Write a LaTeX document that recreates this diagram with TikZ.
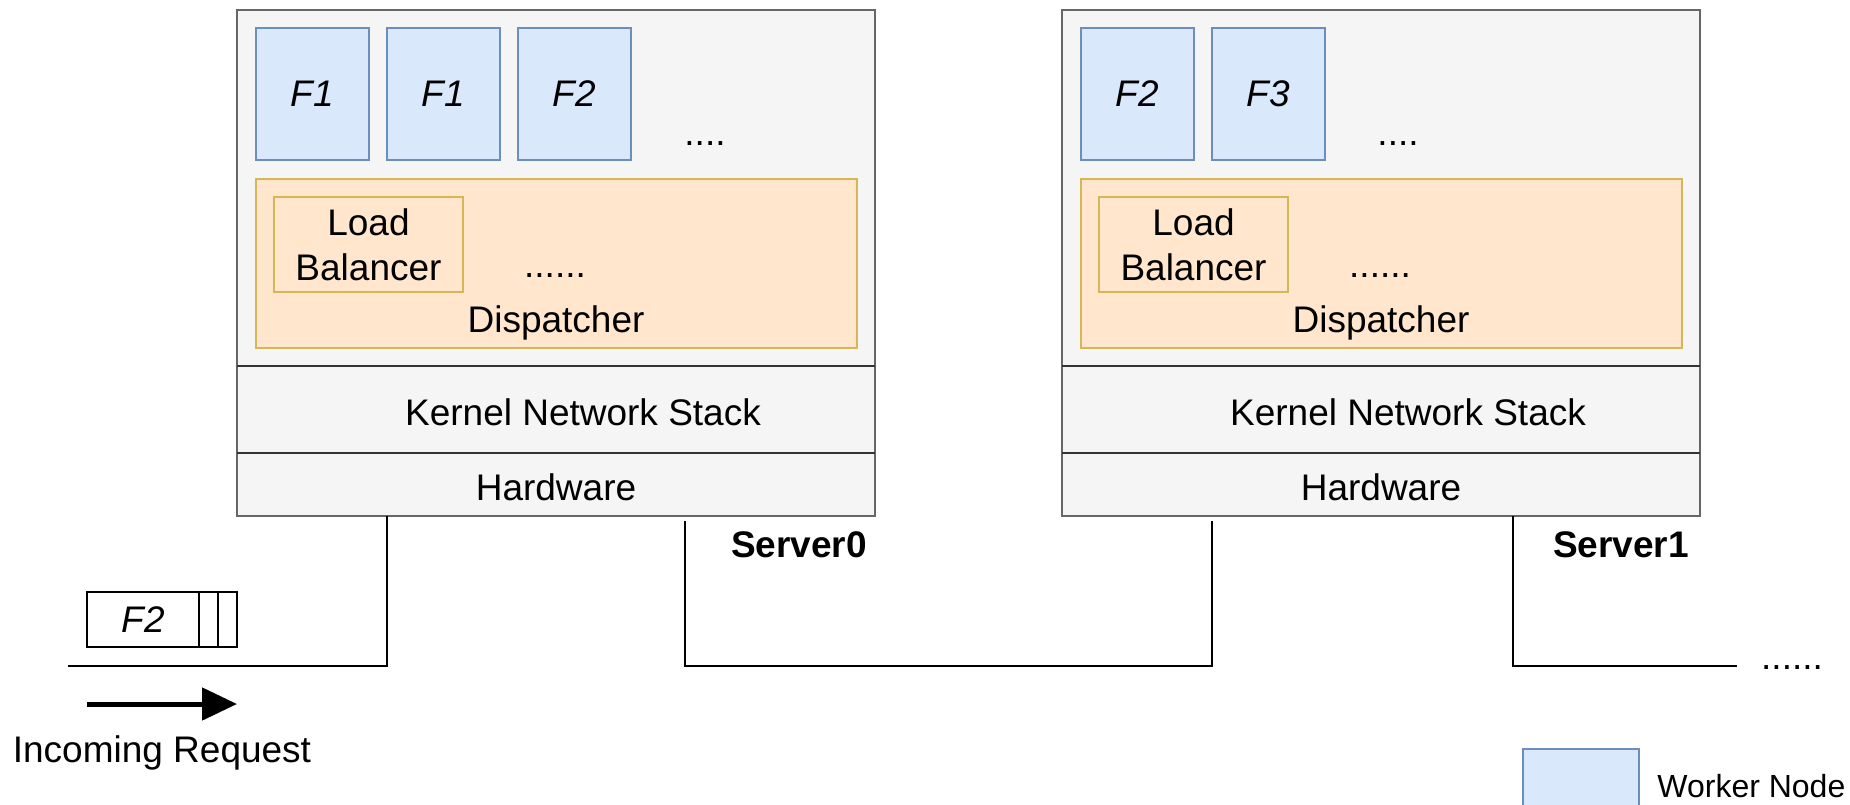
\documentclass[tikz,border=0pt]{standalone}
\usepackage{fontspec}
\setmainfont{Liberation Sans}
\usetikzlibrary{arrows.meta}
\definecolor{srvfill}{HTML}{F5F5F5}
\definecolor{srvline}{HTML}{666666}
\definecolor{wfill}{HTML}{DAE8FC}
\definecolor{wline}{HTML}{6C8EBF}
\definecolor{dfill}{HTML}{FFE6CC}
\definecolor{dline}{HTML}{D6B656}
\definecolor{rowline}{HTML}{333333}
\begin{document}
\begin{tikzpicture}[x=0.5pt,y=-0.5pt,
  font=\fontsize{18.5}{22.5}\selectfont,
  wh/.style 2 args={minimum width=#1*0.5pt,minimum height=#2*0.5pt,inner sep=0pt,outer sep=0pt,anchor=north west},
  server/.style={draw=srvline,fill=srvfill,line width=1pt},
  worker/.style={draw=wline,fill=wfill,line width=0.8pt,font=\fontsize{18.5}{22.5}\selectfont\itshape},
  dispatch/.style={draw=dline,fill=dfill,line width=0.8pt},
  txt/.style={anchor=base,inner sep=0pt},
  bold/.style={font=\fontsize{18.5}{22.5}\selectfont\bfseries},
  wire/.style={draw=black,line width=1pt},
  divider/.style={draw=rowline,line width=1pt},
  pkt/.style={draw=black,line width=0.8pt}
]
\useasboundingbox (0,0) rectangle (1850,804);
\clip (0,0) rectangle (1850,804);

% ---------- Server0 ----------
\node[server,wh={638}{506}] (srv0) at (237,10) {};
\node[worker,wh={113}{132}] (w01) at (256,28) {F1};
\node[worker,wh={113}{132}] (w02) at (387,28) {F1};
\node[worker,wh={113}{132}] (w03) at (518,28) {F2};
\node[txt] (wd0) at (705,145) {....};
\node[dispatch,wh={601}{169}] (dsp0) at (256,179) {};
\node[dispatch,wh={189}{95},align=center] (lb0) at (274,197) {Load\\Balancer};
\node[txt] (dd0) at (555,277) {......};
\node[txt] (dt0) at (556,332) {Dispatcher};
\node[wh={638}{87}] (kns0) at (237,366) {};
\node[wh={638}{63}] (hw0) at (237,453) {};
\draw[divider] (kns0.north west) -- (kns0.north east);
\draw[divider] (hw0.north west) -- (hw0.north east);
\node[txt] (knt0) at (583,425) {Kernel Network Stack};
\node[txt] (hwt0) at (556,500) {Hardware};
\node[txt,bold] (lbl0) at (799,557) {Server0};

% ---------- Server1 ----------
\node[server,wh={638}{506}] (srv1) at (1062,10) {};
\node[worker,wh={113}{132}] (w11) at (1081,28) {F2};
\node[worker,wh={113}{132}] (w12) at (1212,28) {F3};
\node[txt] (wd1) at (1398,145) {....};
\node[dispatch,wh={601}{169}] (dsp1) at (1081,179) {};
\node[dispatch,wh={189}{95},align=center] (lb1) at (1099,197) {Load\\Balancer};
\node[txt] (dd1) at (1380,277) {......};
\node[txt] (dt1) at (1381,332) {Dispatcher};
\node[wh={638}{87}] (kns1) at (1062,366) {};
\node[wh={638}{63}] (hw1) at (1062,453) {};
\draw[divider] (kns1.north west) -- (kns1.north east);
\draw[divider] (hw1.north west) -- (hw1.north east);
\node[txt] (knt1) at (1408,425) {Kernel Network Stack};
\node[txt] (hwt1) at (1381,500) {Hardware};
\node[txt,bold] (lbl1) at (1621,557) {Server1};

% ---------- network wiring ----------
\coordinate (bus) at (0,666);
\coordinate (inL) at (68,666);
\coordinate (outR) at (1737,666);
\coordinate (l0) at ([xshift=224pt,yshift=-2.5pt]srv0.south west);
\coordinate (l1) at ([xshift=75pt,yshift=-2.5pt]srv1.south west);
\draw[wire] ([xshift=75pt]srv0.south west) |- (inL);
\draw[wire] (l0) |- (bus -| l1) -- (l1);
\draw[wire] ([xshift=225.5pt]srv1.south west) |- (outR);
\node[txt] (more) at (1792,669) {......};

% ---------- incoming request ----------
\node[pkt,wh={112}{55},font=\fontsize{18.5}{22.5}\selectfont\itshape] (req) at (87,592) {F2};
\node[pkt,wh={19}{55}] (slotA) at (199,592) {};
\node[pkt,wh={19}{55}] (slotB) at (218,592) {};
\coordinate (arrS) at (87,704);
\coordinate (arrE) at (237,704);
\draw[line width=2.5pt,-{Triangle[length=17.5pt,width=16pt]}] (arrS) -- (arrE);
\node[txt] (inlbl) at (162,762) {Incoming Request};

% ---------- legend ----------
\node[worker,wh={116}{116}] (legend) at (1523,749) {};
\node[anchor=base west,inner sep=0pt,font=\fontsize{16}{19}\selectfont] (legt) at (1657,797) {Worker Node};
\end{tikzpicture}
\end{document}
